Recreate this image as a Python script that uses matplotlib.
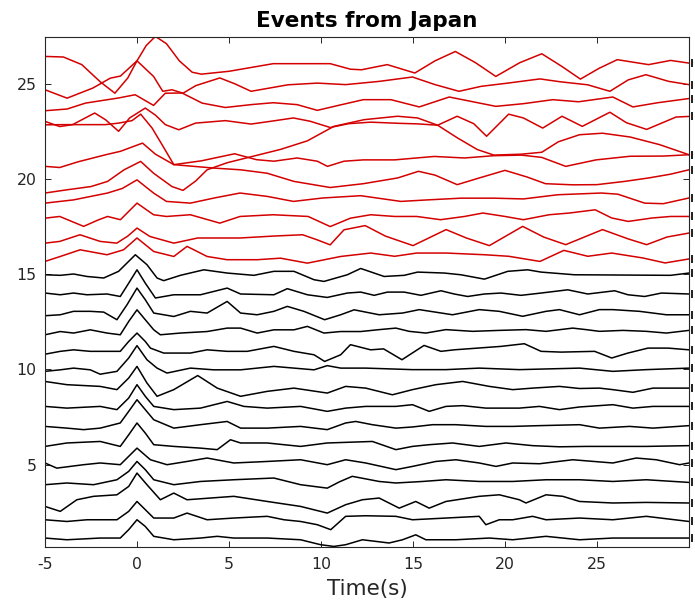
import matplotlib
matplotlib.use("Agg")
import matplotlib.pyplot as plt
import matplotlib.transforms as mtransforms

# ---- black traces (bottom to top), (time [s], offset amplitude) ----
black_01 = [(-5, 1.15), (-3.81, 1.06), (-2.0, 1.15), (-0.91, 1.15), (-0.45, 1.59), (0.0, 2.11), (0.45, 1.76),
            (0.91, 1.24), (2.0, 1.06), (3.45, 1.15), (4.36, 1.24), (5.26, 1.15), (7.08, 1.15), (8.89, 1.06),
            (9.98, 0.8), (10.7, 0.71), (11.34, 0.8), (12.25, 1.06), (13.7, 0.89), (14.43, 1.06), (15.15, 1.32),
            (15.7, 1.06), (17.33, 1.06), (19.15, 1.15), (20.42, 1.06), (22.23, 1.24), (24.05, 1.06),
            (25.86, 1.15), (27.68, 1.15), (30, 1.15)]
black_02 = [(-5, 2.11), (-3.81, 2.02), (-2.72, 2.11), (-1.09, 2.11), (-0.45, 2.55), (0.0, 3.07), (0.45, 2.64),
            (0.91, 2.2), (2.0, 2.2), (2.72, 2.46), (3.81, 2.11), (5.26, 2.2), (7.08, 2.29), (7.99, 2.11),
            (8.89, 2.02), (9.8, 1.85), (10.53, 1.59), (11.34, 2.29), (12.43, 2.32), (14.07, 2.29), (14.97, 2.11),
            (16.79, 2.2), (18.6, 2.29), (18.96, 1.85), (19.69, 2.11), (20.42, 2.11), (21.5, 2.29), (22.23, 2.11),
            (24.05, 2.2), (25.86, 2.11), (27.68, 2.29), (30, 2.02)]
black_03 = [(-5, 2.81), (-4.17, 2.55), (-3.27, 3.16), (-2.36, 3.34), (-1.09, 3.42), (-0.45, 3.86), (0.0, 4.56),
            (0.54, 3.95), (1.27, 3.16), (2.0, 3.51), (2.72, 3.16), (5.26, 3.34), (7.08, 3.07), (8.89, 2.81),
            (10.34, 2.46), (11.34, 2.9), (12.25, 3.16), (13.16, 3.25), (14.25, 2.72), (15.15, 3.07),
            (15.88, 2.72), (16.79, 3.07), (18.6, 3.34), (19.69, 3.42), (20.78, 3.16), (21.14, 2.99),
            (22.23, 3.42), (23.14, 3.34), (24.05, 3.07), (25.86, 2.99), (27.68, 3.02), (30, 2.99)]
black_04 = [(-5, 3.95), (-3.81, 4.04), (-2.36, 3.95), (-1.09, 4.21), (-0.45, 4.65), (0.0, 5.17), (0.45, 4.74),
            (0.91, 4.21), (2.0, 3.95), (3.45, 4.12), (5.26, 4.21), (7.44, 4.3), (8.89, 3.95), (10.34, 3.77),
            (11.0, 4.1), (11.7, 4.39), (13.16, 4.12), (14.07, 4.04), (15.52, 4.12), (16.79, 4.21), (18.6, 4.12),
            (20.42, 4.12), (22.23, 4.21), (24.05, 4.21), (25.86, 4.12), (27.68, 4.21), (30, 4.07)]
black_05 = [(-5, 5.09), (-4.36, 4.82), (-2.9, 5.0), (-2.0, 5.09), (-0.91, 5.0), (-0.45, 5.44), (0.0, 5.87),
            (0.73, 5.26), (1.63, 5.0), (2.72, 5.17), (3.81, 5.35), (5.26, 5.09), (7.08, 5.17), (8.89, 5.26),
            (10.34, 5.0), (11.34, 5.26), (12.43, 5.09), (14.07, 4.74), (14.97, 4.91), (16.24, 5.17),
            (17.33, 5.26), (18.6, 5.09), (19.51, 4.91), (20.42, 5.09), (21.87, 5.05), (23.68, 5.26),
            (25.86, 5.09), (27.13, 5.35), (28.22, 5.26), (29.49, 5.0), (30, 5.09)]
black_06 = [(-5, 5.96), (-3.81, 6.14), (-2.0, 6.22), (-0.91, 5.96), (-0.45, 6.57), (0.0, 7.19), (0.45, 6.66),
            (0.91, 6.05), (2.0, 5.96), (3.45, 5.87), (4.36, 5.79), (5.08, 6.31), (5.63, 6.14), (7.08, 6.14),
            (8.89, 5.96), (10.34, 6.14), (12.79, 6.22), (14.07, 5.79), (14.97, 5.96), (15.88, 6.05),
            (17.15, 6.14), (18.6, 5.96), (20.05, 6.14), (21.5, 6.0), (22.96, 5.94), (24.41, 5.96), (27.68, 5.96),
            (30, 6.0)]
black_07 = [(-5, 7.01), (-3.81, 6.92), (-2.9, 6.84), (-2.0, 6.92), (-0.91, 7.19), (-0.45, 7.8), (0.0, 8.41),
            (0.45, 7.89), (0.91, 7.36), (2.0, 6.92), (3.45, 7.1), (4.9, 7.27), (5.63, 6.92), (7.08, 6.92),
            (8.89, 7.01), (10.34, 6.84), (11.34, 7.19), (11.89, 7.27), (12.79, 7.1), (14.07, 6.92),
            (14.97, 6.98), (16.06, 7.1), (17.33, 7.1), (18.96, 7.01), (20.42, 7.01), (21.87, 7.05), (24.05, 7.1),
            (25.13, 6.92), (26.77, 7.01), (28.04, 6.92), (30, 7.05)]
black_08 = [(-5, 8.06), (-3.81, 7.97), (-2.0, 8.06), (-1.09, 7.89), (-0.45, 8.5), (0.0, 9.2), (0.45, 8.59),
            (0.91, 8.06), (2.0, 7.89), (3.45, 7.97), (4.9, 8.32), (5.81, 8.06), (7.08, 7.97), (8.89, 8.06),
            (10.34, 7.8), (11.34, 7.97), (12.43, 8.06), (14.07, 8.06), (14.97, 8.15), (15.88, 7.8),
            (16.79, 8.06), (17.7, 8.1), (18.96, 7.97), (20.78, 7.97), (21.87, 8.06), (22.96, 7.89),
            (24.05, 8.03), (25.86, 8.15), (26.95, 7.97), (28.04, 8.06), (30, 8.06)]
black_09 = [(-5, 9.37), (-3.81, 9.2), (-2.0, 9.11), (-1.09, 8.94), (-0.45, 9.55), (0.0, 10.16), (0.54, 9.29),
            (1.09, 8.59), (2.0, 8.94), (3.3, 9.68), (4.36, 9.02), (5.63, 8.59), (7.08, 8.85), (8.53, 9.02),
            (10.34, 8.76), (11.34, 9.11), (12.43, 9.02), (13.88, 8.67), (14.97, 8.94), (16.24, 9.2),
            (17.7, 9.37), (19.15, 9.11), (20.42, 8.94), (21.5, 9.02), (22.96, 9.11), (24.05, 9.0),
            (25.13, 9.02), (25.86, 8.94), (26.95, 8.8), (28.04, 9.02), (30, 9.02)]
black_10 = [(-5, 9.9), (-4.17, 9.98), (-3.45, 10.07), (-2.54, 9.98), (-2.0, 9.75), (-1.09, 9.9), (-0.45, 10.6),
            (0.0, 11.25), (0.54, 10.51), (1.09, 10.07), (1.63, 9.81), (2.9, 10.07), (4.17, 9.98), (5.63, 9.98),
            (7.44, 10.16), (8.53, 10.07), (9.62, 9.98), (10.34, 10.2), (11.07, 10.07), (12.43, 10.07),
            (14.97, 9.99), (16.79, 9.99), (18.6, 10.07), (20.78, 9.99), (24.05, 10.07), (25.86, 9.9),
            (27.68, 9.99), (30, 10.07)]
black_11 = [(-5, 10.8), (-4.17, 10.95), (-3.45, 11.03), (-2.54, 10.95), (-0.91, 10.95), (-0.45, 11.47),
            (0.0, 11.91), (0.45, 11.47), (0.73, 11.12), (1.45, 10.86), (2.9, 10.86), (3.81, 11.03), (4.9, 10.95),
            (5.99, 10.95), (7.44, 11.21), (8.53, 10.95), (9.62, 10.77), (10.2, 10.42), (11.07, 10.77),
            (11.6, 11.3), (12.7, 11.03), (13.4, 11.08), (14.4, 10.51), (15.6, 11.26), (16.52, 10.95),
            (17.24, 11.03), (18.51, 11.12), (19.78, 11.21), (21.05, 11.35), (21.96, 10.95), (23.05, 10.91),
            (24.87, 10.95), (25.8, 10.6), (26.68, 10.86), (27.77, 11.12), (28.86, 11.12), (30, 11.03)]
black_12 = [(-5, 11.82), (-4.17, 11.99), (-3.45, 11.91), (-2.54, 12.08), (-1.63, 11.91), (-0.91, 11.82),
            (-0.45, 12.52), (0.0, 13.13), (0.45, 12.61), (0.91, 12.08), (1.27, 11.82), (2.36, 11.91),
            (3.81, 11.99), (4.9, 12.17), (5.63, 12.17), (6.53, 11.91), (7.44, 12.08), (8.53, 12.08),
            (9.26, 12.26), (10.16, 11.91), (11.07, 11.99), (12.16, 11.99), (13.16, 12.09), (14.07, 12.17),
            (14.79, 12.0), (15.7, 11.91), (16.79, 12.09), (18.24, 12.0), (19.69, 12.05), (21.14, 12.09),
            (22.23, 12.0), (23.68, 12.17), (24.41, 12.09), (25.13, 12.0), (26.41, 12.05), (27.68, 12.0),
            (28.77, 11.91), (30, 12.05)]
black_13 = [(-5, 12.82), (-4.17, 12.87), (-3.45, 13.05), (-2.54, 13.05), (-1.81, 13.01), (-1.09, 12.61),
            (-0.54, 13.4), (0.0, 14.27), (0.45, 13.66), (0.91, 12.96), (2.0, 12.78), (2.9, 13.05),
            (3.81, 12.96), (4.9, 13.57), (5.63, 12.96), (6.53, 12.87), (7.44, 13.05), (8.17, 13.31),
            (9.07, 13.05), (10.2, 12.61), (11.07, 12.87), (11.8, 13.13), (13.16, 12.87), (14.43, 12.96),
            (15.34, 13.14), (17.15, 12.87), (18.6, 13.14), (19.69, 13.05), (20.96, 12.79), (22.23, 13.05),
            (22.96, 13.14), (24.05, 12.87), (25.13, 13.14), (25.86, 13.14), (27.31, 13.05), (28.77, 12.87),
            (30, 12.87)]
black_14 = [(-5, 14.01), (-4.17, 13.92), (-3.45, 14.01), (-2.72, 13.92), (-1.63, 13.96), (-0.91, 13.83),
            (-0.45, 14.53), (0.0, 15.23), (0.45, 14.53), (1.0, 13.75), (2.0, 13.92), (3.45, 13.92),
            (4.9, 14.27), (5.63, 13.96), (7.44, 13.92), (8.17, 14.24), (9.26, 13.92), (10.34, 13.78),
            (11.43, 14.01), (12.16, 14.06), (12.89, 13.89), (13.61, 14.06), (14.52, 14.06), (15.43, 13.89),
            (16.52, 14.13), (17.24, 13.96), (17.97, 13.83), (18.88, 13.96), (19.78, 14.01), (20.87, 13.89),
            (21.96, 14.01), (23.41, 14.18), (24.5, 13.96), (25.96, 14.13), (26.68, 13.92), (27.59, 13.83),
            (28.5, 14.01), (30, 13.96)]
black_15 = [(-5, 14.97), (-4.17, 14.94), (-3.45, 15.01), (-2.72, 14.88), (-1.81, 14.8), (-1.0, 15.15),
            (-0.09, 16.02), (0.54, 15.5), (1.09, 14.8), (1.45, 14.66), (2.36, 14.94), (3.63, 15.23),
            (4.9, 15.06), (6.35, 14.94), (7.44, 15.15), (8.53, 15.15), (9.62, 14.71), (10.16, 14.62),
            (11.43, 14.97), (12.16, 15.3), (13.43, 14.88), (14.52, 14.94), (15.25, 15.11), (16.7, 15.06),
            (17.6, 14.97), (18.88, 14.74), (20.15, 15.15), (21.23, 15.23), (21.96, 15.11), (23.77, 14.97),
            (29.0, 14.94), (30, 15.06)]

# ---- red traces (bottom to top) ----
red_01 = [(-5, 15.67), (-4.17, 15.93), (-3.09, 16.28), (-1.63, 16.02), (-0.73, 16.28), (0.0, 16.9),
          (0.91, 16.19), (2.0, 15.93), (2.72, 16.46), (3.81, 15.93), (4.9, 15.76), (6.53, 15.76), (7.8, 15.84),
          (9.26, 15.58), (11.07, 15.93), (12.7, 16.11), (14.0, 15.94), (15.2, 16.11), (16.8, 16.11),
          (18.9, 16.02), (20.2, 15.94), (21.9, 15.67), (23.2, 16.25), (24.5, 15.94), (25.8, 16.11),
          (27.5, 15.85), (28.7, 15.59), (30, 15.8)]
red_02 = [(-5, 16.63), (-4.2, 16.72), (-3.1, 17.07), (-2.0, 16.72), (-1.1, 16.63), (-0.5, 17.0), (0.0, 17.42),
          (0.7, 16.98), (2.0, 16.63), (3.3, 16.9), (5.6, 16.9), (7.4, 17.0), (9.0, 17.07), (9.8, 16.8),
          (10.5, 16.54), (11.25, 17.33), (12.4, 17.55), (13.5, 17.0), (15.0, 16.5), (16.8, 17.34),
          (17.9, 16.9), (19.15, 16.5), (20.96, 17.51), (22.1, 16.95), (23.3, 16.55), (25.3, 17.34),
          (26.7, 16.85), (27.7, 16.55), (28.8, 16.95), (30, 17.16)]
red_03 = [(-5, 17.94), (-4.2, 18.03), (-2.9, 17.51), (-2.1, 17.85), (-1.6, 18.03), (-0.9, 17.86), (0.0, 18.73),
          (0.9, 18.12), (1.6, 18.03), (2.9, 18.12), (4.5, 17.68), (5.6, 18.03), (7.4, 18.12), (9.3, 18.03),
          (10.5, 17.5), (11.6, 17.94), (12.7, 18.12), (14.0, 18.03), (15.2, 18.03), (16.5, 17.86),
          (17.8, 18.03), (18.8, 18.21), (20.0, 18.03), (21.0, 17.86), (22.4, 18.12), (23.5, 18.21),
          (24.9, 18.38), (25.8, 17.95), (26.7, 17.77), (28.0, 17.95), (29.0, 18.03), (30, 18.03)]
red_04 = [(-5, 18.73), (-3.45, 18.9), (-1.6, 19.26), (-0.8, 19.5), (0.0, 19.95), (0.9, 19.26), (1.6, 18.82),
          (2.9, 18.73), (4.2, 19.0), (5.6, 19.26), (7.1, 19.08), (8.5, 18.82), (10.1, 19.0), (12.16, 19.12),
          (14.34, 18.82), (15.8, 18.9), (17.6, 18.99), (19.42, 18.99), (21.0, 18.95), (22.87, 19.17),
          (25.23, 19.26), (26.13, 19.2), (27.59, 18.73), (28.6, 18.7), (30, 19.0)]
red_05 = [(-5, 19.26), (-3.8, 19.43), (-2.5, 19.6), (-1.6, 19.87), (-0.7, 20.48), (0.2, 20.92), (0.9, 20.3),
          (1.9, 19.6), (2.5, 19.4), (3.2, 19.9), (3.81, 20.48), (4.9, 20.85), (6.35, 21.2), (7.8, 21.55),
          (9.26, 22.0), (10.7, 22.76), (12.34, 23.11), (13.25, 23.2), (14.16, 23.29), (15.25, 23.2),
          (16.34, 22.82), (17.42, 22.15), (18.5, 21.54), (19.4, 21.25), (20.9, 21.3), (22.0, 21.4),
          (22.9, 21.95), (24.05, 22.32), (25.3, 22.4), (26.8, 22.2), (28.4, 21.8), (30, 21.27)]
red_06 = [(-5, 20.66), (-4.2, 20.6), (-3.2, 20.9), (-1.7, 21.27), (-0.9, 21.45), (0.3, 21.88), (1.0, 21.3),
          (2.0, 20.75), (4.17, 20.57), (5.62, 20.48), (7.07, 20.3), (8.53, 19.87), (10.5, 19.55),
          (12.3, 19.75), (14.16, 20.05), (15.3, 20.4), (16.2, 20.2), (17.4, 19.7), (18.6, 20.05),
          (20.0, 20.45), (21.2, 20.1), (22.2, 19.75), (23.7, 19.69), (25.0, 19.7), (26.5, 19.87),
          (27.8, 20.05), (29.0, 20.25), (30, 20.48)]
red_07 = [(-5, 22.84), (-4.0, 22.85), (-2.8, 22.85), (-1.72, 22.85), (-1.0, 22.93), (-0.27, 23.06),
          (0.2, 23.4), (0.82, 22.67), (1.36, 21.8), (2.0, 20.75), (3.5, 20.95), (5.3, 21.32), (6.5, 21.01),
          (7.44, 20.93), (8.7, 21.1), (9.8, 20.93), (10.35, 20.66), (11.25, 20.93), (12.3, 21.0),
          (14.0, 21.0), (16.15, 21.18), (17.8, 21.1), (19.4, 21.22), (20.9, 21.25), (22.0, 21.13),
          (23.3, 20.66), (24.95, 21.0), (26.8, 21.19), (28.6, 21.2), (30, 21.27)]
red_08 = [(-5, 23.02), (-4.2, 22.75), (-3.5, 22.85), (-2.3, 23.46), (-1.7, 23.1), (-1.0, 22.5), (-0.4, 23.2),
          (0.45, 23.72), (1.0, 23.35), (1.54, 22.85), (2.27, 22.58), (3.18, 22.93), (4.8, 23.06),
          (6.2, 22.88), (7.3, 23.03), (8.5, 23.2), (9.4, 23.03), (10.5, 22.7), (11.5, 22.9), (12.7, 22.98),
          (14.2, 22.92), (15.25, 22.89), (16.34, 22.82), (17.4, 23.29), (18.3, 22.9), (19.0, 22.24),
          (20.2, 23.4), (21.0, 23.2), (22.05, 22.67), (23.1, 23.29), (24.2, 22.76), (25.7, 23.5),
          (26.6, 22.95), (27.7, 22.6), (29.3, 23.25), (30, 23.28)]
red_09 = [(-5, 23.58), (-3.8, 23.67), (-2.8, 23.98), (-1.0, 24.25), (-0.1, 24.42), (0.9, 23.86), (1.54, 24.5),
          (2.45, 24.51), (3.54, 23.98), (4.8, 23.75), (6.2, 23.9), (7.4, 24.0), (8.7, 23.9), (9.8, 23.6),
          (10.9, 23.85), (12.3, 24.16), (13.8, 24.16), (15.34, 23.78), (16.97, 24.3), (18.0, 24.1),
          (19.5, 23.81), (21.0, 23.95), (22.6, 24.16), (24.0, 24.05), (25.86, 24.3), (26.95, 23.78),
          (28.3, 24.0), (30, 24.22)]
red_10 = [(-5, 24.68), (-3.8, 24.24), (-2.4, 24.77), (-1.45, 25.29), (-0.9, 25.4), (0.0, 26.2), (0.9, 25.38),
          (1.4, 24.6), (1.9, 24.68), (2.5, 24.5), (3.2, 24.9), (4.5, 25.3), (5.3, 25.0), (6.2, 24.6),
          (8.2, 24.94), (9.8, 25.03), (11.34, 24.95), (13.16, 25.12), (14.97, 25.35), (16.2, 24.95),
          (17.5, 24.6), (18.7, 24.86), (20.15, 25.03), (21.9, 25.25), (23.0, 25.1), (24.5, 24.94),
          (25.7, 24.6), (26.7, 25.2), (27.66, 25.47), (28.9, 25.12), (30, 24.95)]
red_11 = [(-5, 26.43), (-4.0, 26.4), (-3.0, 26.0), (-2.0, 25.1), (-1.2, 24.5), (-0.5, 25.3), (0.0, 26.2),
          (0.5, 27.0), (1.0, 27.48), (1.6, 27.1), (2.3, 26.2), (3.0, 25.6), (3.5, 25.5), (5.0, 25.65),
          (7.4, 26.05), (10.5, 26.05), (11.6, 25.76), (12.2, 25.73), (13.6, 26.0), (15.1, 25.56),
          (16.2, 26.2), (17.3, 26.69), (18.4, 26.1), (19.5, 25.38), (20.8, 26.1), (22.0, 26.57), (23.1, 25.9),
          (24.1, 25.24), (25.1, 25.8), (26.1, 26.26), (27.8, 26.0), (29.0, 26.22), (30, 26.08)]

black_traces = [black_01, black_02, black_03, black_04, black_05, black_06, black_07, black_08,
                black_09, black_10, black_11, black_12, black_13, black_14, black_15]
red_traces = [red_01, red_02, red_03, red_04, red_05, red_06, red_07, red_08, red_09, red_10, red_11]

x_ticks = [-5, 0, 5, 10, 15, 20, 25]
y_ticks = [5, 10, 15, 20, 25]

W, H = 695, 614
fig = plt.figure(figsize=(W / 100, H / 100), dpi=100)
ax = fig.add_axes([45 / W, 1 - 547 / H, (689 - 45) / W, (547 - 37) / H])

for tr in black_traces:
    t, v = zip(*tr)
    ax.plot(t, v, color="black", lw=1.1, solid_joinstyle="round")
for tr in red_traces:
    t, v = zip(*tr)
    ax.plot(t, v, color="#d40000", lw=1.1, solid_joinstyle="round")

# station marks just outside the right edge, at each trace's last sample
off = mtransforms.offset_copy(ax.transData, fig=fig, x=3, y=0, units="dots")
ends = [tr[-1] for tr in black_traces + red_traces]
ax.scatter([e[0] for e in ends], [e[1] for e in ends], marker="|", s=30, linewidths=1.4,
           color="#202020", transform=off, clip_on=False, zorder=5)

ax.set_xlim(-5, 30)
ax.set_ylim(0.68, 27.45)
ax.set_xticks(x_ticks)
ax.set_xticklabels([str(v) for v in x_ticks])
ax.set_yticks(y_ticks)
ax.set_yticklabels([str(v) for v in y_ticks])

gray = "#262626"
ax.tick_params(direction="in", top=True, right=True, length=4.5, width=0.7, colors=gray,
               labelsize=11.3)
ax.tick_params(axis="x", pad=7)
ax.tick_params(axis="y", pad=6)
for s in ax.spines.values():
    s.set_color(gray)
    s.set_linewidth(0.8)

ax.set_xlabel("Time(s)", fontsize=15.5, color=gray, labelpad=5)
ax.set_title("Events from Japan", fontsize=15.5, fontweight="bold", color="black", pad=7)

fig.savefig("out.png", dpi=100)
